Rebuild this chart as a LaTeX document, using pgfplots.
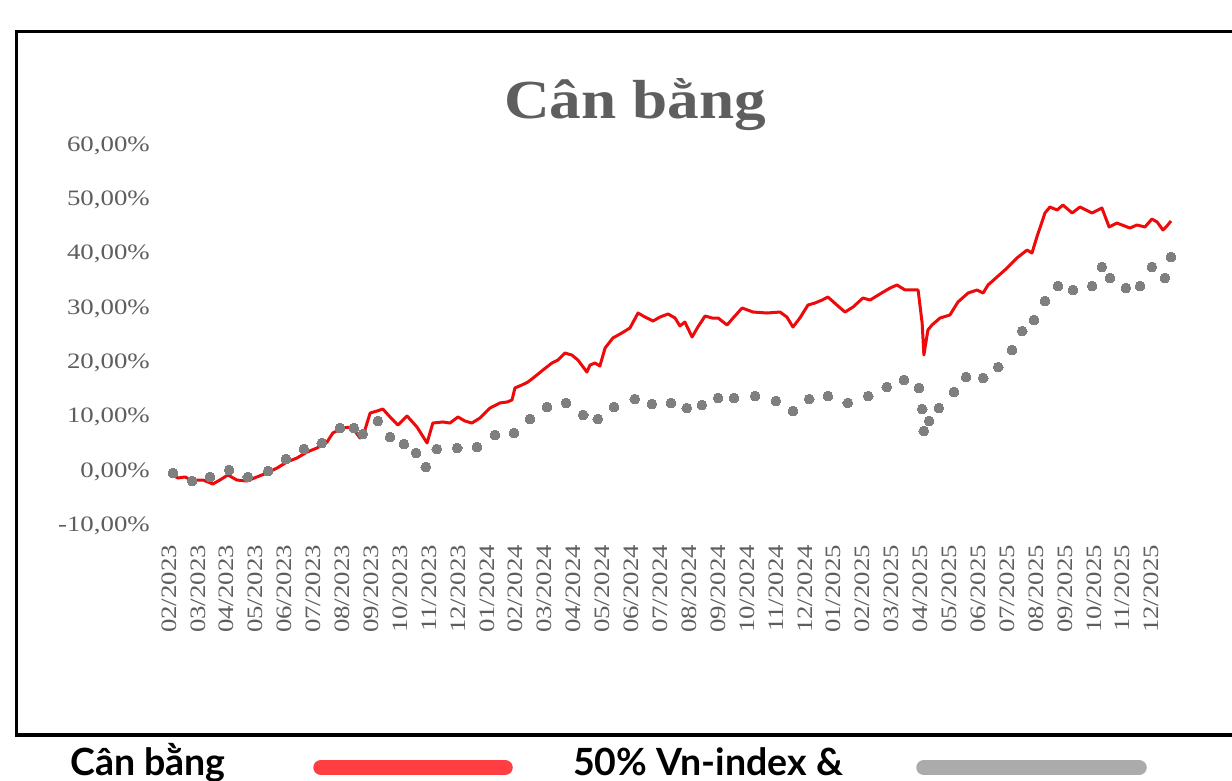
\documentclass[border=0pt]{standalone}
\usepackage{pgfplots}
\pgfplotsset{compat=1.18}
\usepackage{fontspec}
\setmainfont{Liberation Serif}
\newfontfamily\tickfont[FakeStretch=1.22]{Liberation Serif}
\newfontfamily\titlefont[FakeStretch=1.15]{Liberation Serif}
\newfontfamily\legfont{Lato}
\definecolor{txtgray}{HTML}{5E5E5E}
\definecolor{redline}{HTML}{EE0A0A}
\definecolor{dotgray}{HTML}{7F7F7F}
\definecolor{legred}{HTML}{FF3E42}
\definecolor{leggray}{HTML}{ABABAB}

\pgfplotstableread{
x y
0.10 -0.64
0.31 -1.20
0.55 -1.01
0.80 -1.57
1.18 -1.57
1.52 -2.30
1.76 -1.57
2.04 -0.64
2.35 -1.57
2.70 -1.75
3.04 -1.01
3.39 -0.28
3.74 0.64
4.08 1.75
4.43 2.49
4.78 3.59
5.12 4.33
5.47 5.43
5.67 7.09
5.99 8.01
6.33 8.20
6.61 6.17
6.78 7.64
6.96 10.77
7.20 11.14
7.40 11.51
7.65 10.04
7.92 8.56
8.24 10.22
8.58 8.20
8.93 5.25
9.13 8.93
9.48 9.12
9.72 8.93
10.00 10.04
10.24 9.30
10.48 8.93
10.76 9.85
11.11 11.69
11.45 12.62
11.70 12.80
11.87 13.17
11.97 15.38
12.21 15.93
12.42 16.48
12.73 17.77
12.94 18.69
13.25 19.98
13.46 20.53
13.70 21.82
13.94 21.45
14.15 20.53
14.46 18.32
14.57 19.61
14.74 19.98
14.91 19.43
15.09 22.74
15.36 24.59
15.67 25.51
15.95 26.43
16.23 29.19
16.47 28.45
16.75 27.72
16.99 28.45
17.27 29.01
17.51 28.27
17.68 26.80
17.85 27.53
18.10 24.77
18.30 26.61
18.55 28.64
18.79 28.27
19.00 28.27
19.31 26.98
19.52 28.27
19.83 30.11
20.21 29.37
20.69 29.19
21.14 29.37
21.38 28.45
21.59 26.61
21.83 28.27
22.11 30.66
22.35 31.03
22.60 31.58
22.80 32.14
23.11 30.66
23.39 29.37
23.67 30.29
24.01 31.95
24.26 31.58
24.60 32.69
24.95 33.79
25.19 34.35
25.47 33.43
25.92 33.43
26.06 27.35
26.12 21.45
26.26 26.06
26.40 26.98
26.68 28.27
27.02 28.82
27.30 31.22
27.65 32.87
27.96 33.43
28.17 32.87
28.34 34.35
28.65 35.82
29.00 37.48
29.34 39.32
29.69 40.79
29.86 40.24
30.03 43.19
30.31 47.61
30.48 48.71
30.73 48.16
30.93 49.08
31.25 47.61
31.52 48.71
31.94 47.61
32.28 48.53
32.53 45.03
32.80 45.76
33.25 44.84
33.49 45.40
33.77 45.03
34.01 46.50
34.19 45.95
34.39 44.48
34.53 45.21
34.67 46.13
}\redtable

\pgfplotstableread{
x y
0.14 -0.28
0.80 -1.75
1.42 -1.01
2.08 0.28
2.73 -1.01
3.43 0.09
4.05 2.30
4.67 4.14
5.29 5.25
5.92 8.01
6.40 8.01
6.71 6.91
7.23 9.30
7.65 6.35
8.13 5.06
8.55 3.41
8.89 0.83
9.27 4.14
9.97 4.33
10.66 4.51
11.28 6.72
11.94 7.09
12.49 9.67
13.08 11.88
13.74 12.62
14.33 10.41
14.84 9.67
15.40 11.88
16.12 13.35
16.71 12.43
17.37 12.62
17.92 11.69
18.44 12.25
19.00 13.54
19.55 13.54
20.28 13.90
21.00 12.98
21.59 11.14
22.15 13.35
22.80 13.90
23.49 12.62
24.19 13.90
24.84 15.56
25.43 16.85
25.95 15.38
26.06 11.51
26.12 7.46
26.30 9.30
26.64 11.69
27.16 14.64
27.58 17.40
28.17 17.22
28.69 19.24
29.17 22.38
29.52 25.87
29.93 27.90
30.31 31.40
30.76 34.16
31.28 33.43
31.94 34.16
32.28 37.66
32.56 35.64
33.11 33.79
33.60 34.16
34.01 37.66
34.46 35.64
34.67 39.50
}\graytable

\begin{document}
\begin{tikzpicture}
\fill[white] (0,0) rectangle (1232bp,-781bp);
\draw[line width=3.5bp, black] (16.5bp,-31.5bp) rectangle (1262bp,-735bp);
\node[anchor=base, inner sep=0pt, text=txtgray, font=\titlefont\bfseries\fontsize{55bp}{60bp}\selectfont] at (635bp,-118bp) {Cân bằng};
\begin{axis}[
  at={(160bp,-525.8bp)}, anchor=south west,
  scale only axis, width=1017.6bp, height=380.1bp,
  xmin=-0.31, xmax=34.9, ymin=-10, ymax=60,
  axis line style={draw=none},
  major tick length=0pt,
  xtick={0,...,34},
  xticklabels={02/2023,03/2023,04/2023,05/2023,06/2023,07/2023,08/2023,09/2023,10/2023,11/2023,12/2023,01/2024,02/2024,03/2024,04/2024,05/2024,06/2024,07/2024,08/2024,09/2024,10/2024,11/2024,12/2024,01/2025,02/2025,03/2025,04/2025,05/2025,06/2025,07/2025,08/2025,09/2025,10/2025,11/2025,12/2025},
  ytick={-10,0,10,20,30,40,50,60},
  yticklabels={{-10,00\%},{0,00\%},{10,00\%},{20,00\%},{30,00\%},{40,00\%},{50,00\%},{60,00\%}},
  ticklabel style={font=\tickfont\fontsize{22bp}{24bp}\selectfont, text=txtgray, inner sep=0pt},
  xticklabel style={yshift=-19bp, rotate=90, anchor=east},
  yticklabel style={xshift=-10bp, anchor=east},
  clip=false,
]
\addplot[redline, line width=3bp, line join=round, mark=none] table[x=x,y=y] {\redtable};
\addplot[dotgray, only marks, mark=*, mark size=4.9bp, mark options={draw=dotgray, fill=dotgray, line width=0pt}] table[x=x,y=y] {\graytable};
\end{axis}
\node[anchor=base west, inner sep=0pt, font=\legfont\bfseries\fontsize{37.5bp}{40bp}\selectfont] at (70bp,-775bp) {Cân bằng};
\draw[legred, line width=15.5bp, line cap=round] (321bp,-767.5bp) -- (505bp,-767.5bp);
\node[anchor=base west, inner sep=0pt, font=\legfont\bfseries\fontsize{37.5bp}{40bp}\selectfont] at (573bp,-775bp) {50\% Vn-index \&};
\draw[leggray, line width=15.5bp, line cap=round] (924bp,-767.5bp) -- (1139bp,-767.5bp);
\pgfresetboundingbox
\path[use as bounding box] (0,0) rectangle (1232bp,-781bp);
\end{tikzpicture}
\end{document}
